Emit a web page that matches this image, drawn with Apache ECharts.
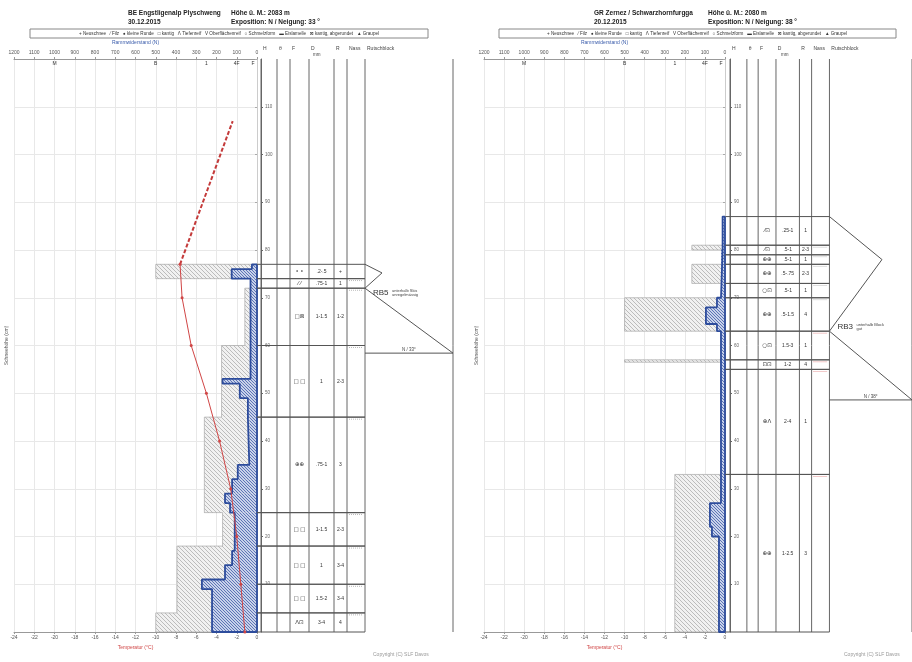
<!DOCTYPE html>
<html>
<head>
<meta charset="utf-8">
<script src="https://cdn.jsdelivr.net/npm/echarts@6/dist/echarts.min.js"></script>
<style>html,body{margin:0;padding:0;background:#fff}#chart{width:912px;height:662px}</style>
</head>
<body>
<div id="chart"></div>
<script>
var FONT = 'Liberation Sans, DejaVu Sans, sans-serif';
var SYM = 'DejaVu Sans, sans-serif';

// Temperaturprofil links (cm / °C)
var lTempH = [77, 70, 60, 50, 40, 30, 20, 10, 0];
var lTempT = [-7.6, -7.4, -6.5, -5.0, -3.7, -2.6, -2.0, -1.6, -1.2];
var lAirH = [77, 107];
var lAirT = [-7.6, -2.4];

// Rammwiderstand / Handhärte: [oben, unten, N]
var lRam = [[77,74,500],[74,72,30],[72,60,60],[60,45,175],[45,25,260],[25,18,170],[18,4,395],[4,0,500]];
var lHand = [[77,76,25],[76,74,125],[74,53,32],[53,52,170],[52,49,85],[49,45,45],[45,35,38],[35,32,95],[32,29,123],[29,27,158],[27,25,133],[25,17,110],[17,14,123],[14,11,158],[11,9,272],[9,0,222]];
var rRam = [[81,80,165],[77,73,165],[70,63,500],[57,56.5,500],[33,0,250]];
var rHand = [[87,80,12],[80,70,20],[70,68,40],[68,64.5,95],[64.5,63,40],[63,27,20],[27,22,75],[22,20,65],[20,0,30]];

// Schichten links
var lTop = [77, 74, 72, 60, 45, 25, 18, 10, 4];
var lBot = [74, 72, 60, 45, 25, 18, 10, 4, 0];
var lGrain = ['• •', '⁄ ⁄', '□⊠', '□ □', '⊕⊕', '□ □', '□ □', '□ □', 'Λ⊡'];
var lSize = ['.2-.5', '.75-1', '1-1.5', '1', '.75-1', '1-1.5', '1', '1.5-2', '3-4'];
var lHard = ['+', '1', '1-2', '2-3', '3', '2-3', '3-4', '3-4', '4'];
var lMark = ['', 'g', 'g', 'g', 'g', 'g', 'g', 'g', 'g'];

// Schichten rechts
var rTop = [87, 81, 79, 77, 73, 70, 63, 57, 55, 33];
var rBot = [81, 79, 77, 73, 70, 63, 57, 55, 33, 0];
var rGrain = ['⁄⊡', '⁄⊡', '⊕⊕', '⊕⊕', '○⊡', '⊕⊕', '○⊡', '⊡⊡', '⊕Λ', '⊕⊕'];
var rSize = ['.25-1', '.5-1', '.5-1', '.5-.75', '.5-1', '.5-1.5', '1.5-3', '1-2', '2-4', '1-2.5'];
var rHard = ['1', '2-3', '1', '2-3', '1', '4', '1', '4', '1', '3'];
var rMark = ['', 'g', 'g', 'g', 'g', 'g', 'r', 'r', 'r', 'r'];

// Rutschblock: [oben, Spitze, Spitzentiefe, Bruch, Basis]
var lRb = [77, 75.2, 17, 72, 58.4];
var rRb = [87, 78, 56, 63, 48.6];
var lRbText = ['RB5', 'unterhalb Skis', 'unregelmässig', 'N / 33°'];
var rRbText = ['RB3', 'unterhalb Block', 'gut', 'N / 38°'];

var hardVals = [1000, 500, 250, 100, 20];
var hardNames = ['M', 'B', '1', '4F', 'F'];
var headNames = ['H', 'θ', 'F', 'D', 'R', 'Nass', 'Rutschblock'];

// Spaltengrenzen der Tabelle (px ab Tabellenbeginn)
var lCols = [0, 16, 29, 48, 73, 86, 104, 192];
var rCols = [0, 18, 30, 49, 74, 87, 106, 194];

function hatch(bg, fg, size){
    var c = document.createElement('canvas');
    c.width = c.height = size;
    var g = c.getContext('2d');
    g.fillStyle = bg; g.fillRect(0, 0, size, size);
    g.fillStyle = fg;
    for(var i = 0; i < size; i++) g.fillRect(i, i, 1, 1);
    return c;
}
var grayFill = {image: hatch('#f1f1f1', '#bcbcbc', 4), repeat: 'repeat'};
var blueFill = {image: hatch('#c8d2ea', '#5d74b6', 3), repeat: 'repeat'};

// Umriss eines Stufenprofils, Lücken laufen über 0 N
function outline(steps){
    var pts = [[0, steps[0][0]]];
    steps.forEach(function(s, i){
        if(i > 0 && steps[i - 1][1] != s[0]){
            pts.push([0, steps[i - 1][1]]);
            pts.push([0, s[0]]);
        }
        pts.push([s[2], s[0]]);
        pts.push([s[2], s[1]]);
    });
    pts.push([0, steps[steps.length - 1][1]]);
    pts.push([0, steps[0][0]]);
    return pts;
}

function stepFill(xi, yi, steps, fill, z){
    return {type: 'custom', xAxisIndex: xi, yAxisIndex: yi, silent: true, z: z, data: steps,
        renderItem: function(params, api){
            var a = api.coord([api.value(2), api.value(0)]);
            var b = api.coord([0, api.value(1)]);
            return {type: 'rect', shape: {x: Math.min(a[0], b[0]), y: a[1], width: Math.abs(b[0] - a[0]), height: b[1] - a[1]},
                style: {fill: fill}};
        }};
}

function stepLine(xi, yi, steps, color, w, z){
    return {type: 'line', xAxisIndex: xi, yAxisIndex: yi, silent: true, z: z, symbol: 'none',
        data: outline(steps), lineStyle: {color: color, width: w}, animation: false};
}

function colLines(xi, yi, cols){
    return {type: 'custom', xAxisIndex: xi, yAxisIndex: yi, silent: true, z: 4, data: cols,
        renderItem: function(params, api){
            var a = api.coord([api.value(0), 0]), b = api.coord([api.value(0), 120]);
            return {type: 'line', shape: {x1: a[0], y1: a[1], x2: b[0], y2: b[1]}, style: {stroke: '#666', lineWidth: 1}};
        }};
}

function tableSeries(xi, yi, tops, bots, grains, sizes, hards, marks, cols, lead){
    var data = tops.map(function(t, i){ return [t, bots[i], i]; });
    return {type: 'custom', xAxisIndex: xi, yAxisIndex: yi, silent: true, z: 5, data: data,
        renderItem: function(params, api){
            var i = api.value(2);
            var p0 = api.coord([-lead, api.value(0)]), p1 = api.coord([cols[6], api.value(1)]);
            var yt = p0[1], yb = p1[1], ym = (yt + yb) / 2;
            var ch = [
                {type: 'line', shape: {x1: p0[0], y1: yt, x2: p1[0], y2: yt}, style: {stroke: '#555', lineWidth: 1}},
                {type: 'line', shape: {x1: p0[0], y1: yb, x2: p1[0], y2: yb}, style: {stroke: '#555', lineWidth: 1}}
            ];
            var txt = [grains[i], sizes[i], hards[i]];
            [2, 3, 4].forEach(function(c, k){
                var cx = api.coord([(cols[c] + cols[c + 1]) / 2, 0])[0];
                ch.push({type: 'text', x: cx, y: ym, style: {text: txt[k], fontSize: k == 0 ? 5.5 : 5, fill: '#333',
                    fontFamily: k == 0 ? SYM : FONT, align: 'center', verticalAlign: 'middle'}});
            });
            if(marks[i]){
                var m0 = api.coord([cols[5] + 2, 0])[0], m1 = api.coord([cols[6] - 2, 0])[0];
                ch.push({type: 'line', shape: {x1: m0, y1: yt + 2, x2: m1, y2: yt + 2},
                    style: {stroke: marks[i] == 'r' ? '#d77' : '#aaa', lineWidth: 0.8, lineDash: [1, 1]}});
            }
            return {type: 'group', children: ch};
        }};
}

function rbSeries(xi, yi, rb, txt, cols, dy){
    return {type: 'custom', xAxisIndex: xi, yAxisIndex: yi, silent: true, z: 6, data: [rb],
        renderItem: function(params, api){
            var c0 = cols[6], c1 = cols[7];
            var top = api.coord([c0, api.value(0)]);
            var tip = api.coord([c0 + api.value(2), api.value(1)]);
            var fr = api.coord([c0, api.value(3)]);
            var end = api.coord([c1, api.value(4)]);
            var bs = api.coord([c0, api.value(4)]);
            var st = {stroke: '#555', lineWidth: 1, fill: null};
            return {type: 'group', children: [
                {type: 'polyline', shape: {points: [top, tip, fr, end]}, style: st},
                {type: 'line', shape: {x1: bs[0], y1: bs[1], x2: end[0], y2: end[1]}, style: st},
                {type: 'text', x: fr[0] + 8, y: fr[1] + dy, style: {text: txt[0], fontSize: 8, fill: '#333', fontFamily: FONT, verticalAlign: 'middle'}},
                {type: 'text', x: fr[0] + 27, y: fr[1] + dy - 2.5, style: {text: txt[1], fontSize: 4, fill: '#444', fontFamily: FONT, verticalAlign: 'middle'}},
                {type: 'text', x: fr[0] + 27, y: fr[1] + dy + 1.8, style: {text: txt[2], fontSize: 4, fill: '#444', fontFamily: FONT, verticalAlign: 'middle'}},
                {type: 'text', x: (bs[0] + end[0]) / 2, y: bs[1] - 1, style: {text: txt[3], fontSize: 4.5, fill: '#444', fontFamily: FONT, align: 'center', verticalAlign: 'bottom'}}
            ]};
        }};
}

function pairs(xs, ys){ return xs.map(function(x, i){ return [x, ys[i]]; }); }

function plotAxes(g){
    return [
        {gridIndex: g, type: 'value', position: 'bottom', min: -24, max: 0, interval: 2,
            axisLine: {lineStyle: {color: '#999'}}, axisTick: {length: 2, lineStyle: {color: '#999'}},
            axisLabel: {fontSize: 5, color: '#555', margin: 3, fontFamily: FONT},
            splitLine: {lineStyle: {color: '#e8e8e8'}},
            name: 'Temperatur (°C)', nameLocation: 'middle', nameGap: 12,
            nameTextStyle: {color: '#d04545', fontSize: 5, fontFamily: FONT}},
        {gridIndex: g, type: 'value', position: 'top', inverse: true, min: 0, max: 1200, interval: 100,
            axisLine: {lineStyle: {color: '#999'}}, axisTick: {length: 2, lineStyle: {color: '#999'}},
            axisLabel: {fontSize: 5, color: '#555', margin: 4, fontFamily: FONT, formatter: function(v){ return String(v); }},
            splitLine: {show: false},
            name: 'Rammwiderstand (N)', nameLocation: 'middle', nameGap: 14,
            nameTextStyle: {color: '#3a5cab', fontSize: 5, fontFamily: FONT}},
        {gridIndex: g, type: 'value', position: 'top', inverse: true, min: 0, max: 1200,
            axisLine: {show: false}, axisTick: {show: false}, splitLine: {show: false},
            axisLabel: {inside: true, margin: 2, fontSize: 5, color: '#333', fontFamily: FONT, customValues: hardVals,
                formatter: function(v){ var k = hardVals.indexOf(v); return k < 0 ? '' : hardNames[k]; }}}
    ];
}

function tableXAxis(g, cols){
    var starts = cols.slice(0, 7).map(function(c){ return c + 2; });
    return {gridIndex: g, type: 'value', position: 'top', min: 0, max: cols[7],
        axisLine: {show: false}, axisTick: {show: false}, splitLine: {show: false},
        axisLabel: {fontSize: 5, color: '#444', margin: 8, align: 'left', fontFamily: FONT, customValues: starts,
            formatter: function(v){ var k = starts.indexOf(v); return k < 0 ? '' : headNames[k]; }}};
}

function plotYAxis(g){
    return {gridIndex: g, type: 'value', min: 0, max: 120, interval: 10, position: 'left',
        axisLine: {show: true, lineStyle: {color: '#ccc'}}, axisTick: {show: true, length: 2, lineStyle: {color: '#aaa'}},
        axisLabel: {show: false}, splitLine: {lineStyle: {color: '#e8e8e8'}},
        name: 'Schneehöhe (cm)', nameLocation: 'middle', nameGap: 5,
        nameTextStyle: {fontSize: 5, color: '#555', fontFamily: FONT}};
}

function tableYAxis(g){
    return {gridIndex: g, type: 'value', min: 0, max: 120, interval: 10, position: 'left',
        axisLine: {show: true, lineStyle: {color: '#666'}}, axisTick: {show: true, inside: true, length: 2, lineStyle: {color: '#666'}},
        axisLabel: {inside: true, margin: 4, fontSize: 4.5, color: '#666', fontFamily: FONT, showMinLabel: false, showMaxLabel: false},
        splitLine: {show: false}};
}

function txt(x, y, s, size, opt){
    opt = opt || {};
    return {type: 'text', x: x, y: y, silent: true, style: {text: s, fontSize: size, fontFamily: FONT,
        fontWeight: opt.bold ? 'bold' : 'normal', fill: opt.color || '#222', align: opt.align || 'left', verticalAlign: 'middle'}};
}

var legendText = '+ Neuschnee   ⁄ Filz   ● kleine Runde   □ kantig   Λ Tiefenreif   V Oberflächenreif   ○ Schmelzform   ▬ Eislamelle   ⊠ kantig, abgerundet   ▲ Graupel';

var option = {
    backgroundColor: '#fff',
    animation: false,
    grid: [
        {left: 14, top: 59, width: 243, height: 573},
        {left: 261, top: 59, width: 192, height: 573},
        {left: 484, top: 59, width: 241, height: 573},
        {left: 730, top: 59, width: 194, height: 573}
    ],
    xAxis: plotAxes(0).concat([tableXAxis(1, lCols)], plotAxes(2), [tableXAxis(3, rCols)]),
    yAxis: [plotYAxis(0), tableYAxis(1), plotYAxis(2), tableYAxis(3)],
    graphic: [
        txt(128, 13, 'BE Engstligenalp Plyschweng', 6.5, {bold: true}),
        txt(128, 22, '30.12.2015', 6.5, {bold: true}),
        txt(231, 13, 'Höhe ü. M.: 2083 m', 6.5, {bold: true}),
        txt(231, 22, 'Exposition: N / Neigung: 33 °', 6.5, {bold: true}),
        txt(594, 13, 'GR Zernez / Schwarzhornfurgga', 6.5, {bold: true}),
        txt(594, 22, '20.12.2015', 6.5, {bold: true}),
        txt(708, 13, 'Höhe ü. M.: 2080 m', 6.5, {bold: true}),
        txt(708, 22, 'Exposition: N / Neigung: 38 °', 6.5, {bold: true}),
        {type: 'rect', shape: {x: 30, y: 29, width: 398, height: 9}, style: {fill: null, stroke: '#888', lineWidth: 1}, silent: true},
        {type: 'rect', shape: {x: 499, y: 29, width: 397, height: 9}, style: {fill: null, stroke: '#888', lineWidth: 1}, silent: true},
        txt(229, 33.5, legendText, 4.6, {align: 'center', color: '#333'}),
        txt(697, 33.5, legendText, 4.6, {align: 'center', color: '#333'}),
        txt(313, 55, 'mm', 4.5, {color: '#444'}),
        txt(781, 55, 'mm', 4.5, {color: '#444'}),
        txt(373, 655, 'Copyright (C) SLF Davos', 5, {color: '#999'}),
        txt(844, 655, 'Copyright (C) SLF Davos', 5, {color: '#999'})
    ],
    series: [
        stepFill(1, 0, lRam, grayFill, 1),
        stepLine(1, 0, lRam, '#a8a8a8', 0.7, 2),
        stepFill(1, 0, lHand, blueFill, 3),
        stepLine(1, 0, lHand, '#2d4c9c', 1.8, 4),
        {type: 'line', xAxisIndex: 0, yAxisIndex: 0, z: 6, silent: true, data: pairs(lAirT, lAirH), symbol: 'none',
            lineStyle: {color: '#c43a3a', width: 2, type: [4, 2]}},
        {type: 'line', xAxisIndex: 0, yAxisIndex: 0, z: 6, silent: true, data: pairs(lTempT, lTempH), symbol: 'circle', symbolSize: 3,
            itemStyle: {color: '#d04545'}, lineStyle: {color: '#d04545', width: 1}},
        colLines(3, 1, lCols),
        tableSeries(3, 1, lTop, lBot, lGrain, lSize, lHard, lMark, lCols, 4),
        rbSeries(3, 1, lRb, lRbText, lCols, 5),

        stepFill(5, 2, rRam, grayFill, 1),
        stepLine(5, 2, rRam, '#a8a8a8', 0.7, 2),
        stepFill(5, 2, rHand, blueFill, 3),
        stepLine(5, 2, rHand, '#2d4c9c', 1.8, 4),
        colLines(7, 3, rCols),
        tableSeries(7, 3, rTop, rBot, rGrain, rSize, rHard, rMark, rCols, 5),
        rbSeries(7, 3, rRb, rRbText, rCols, -4)
    ]
};

var chart = echarts.init(document.getElementById('chart'));
chart.setOption(option);
</script>
</body>
</html>
